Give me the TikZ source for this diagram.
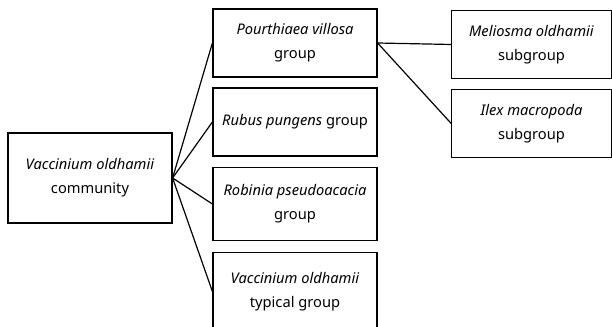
\documentclass[tikz,border=0pt]{standalone}
\usepackage{fontspec}
\setmainfont{Noto Sans}
\usetikzlibrary{positioning}

\begin{document}
\begin{tikzpicture}[x=0.75pt,y=-0.75pt]
    \tikzset{box/.style={draw,line width=0.9pt,align=center,inner sep=2pt,
        font=\fontsize{11}{18}\selectfont,minimum width=123pt,minimum height=51pt}}
    \useasboundingbox (0,0) rectangle (612,327);
    \node[box,minimum height=67.5pt] (comm) at (90,178) {\textit{Vaccinium oldhamii}\\community};
    \node[box] (g1) at (295,43) {\textit{Pourthiaea villosa}\\group};
    \node[box] (g2) at (295,122) {\textit{Rubus pungens} group};
    \node[box,minimum height=55pt] (g3) at (295,204) {\textit{Robinia pseudoacacia}\\group};
    \node[box,minimum height=59pt] (g4) at (295,291.5) {\textit{Vaccinium oldhamii}\\typical group};
    \node[box,minimum width=119.5pt] (s1) at (531.5,44.5) {\textit{Meliosma oldhamii}\\subgroup};
    \node[box,minimum width=119.5pt] (s2) at (531.5,123.5) {\textit{Ilex macropoda}\\subgroup};
    \foreach \g in {g1,g2,g3,g4}
        \draw[line width=0.9pt] (comm.east) -- (\g.west);
    \draw[line width=0.9pt] (g1.east) -- (s1.west);
    \draw[line width=0.9pt] (g1.east) -- (s2.west);
\end{tikzpicture}
\end{document}
